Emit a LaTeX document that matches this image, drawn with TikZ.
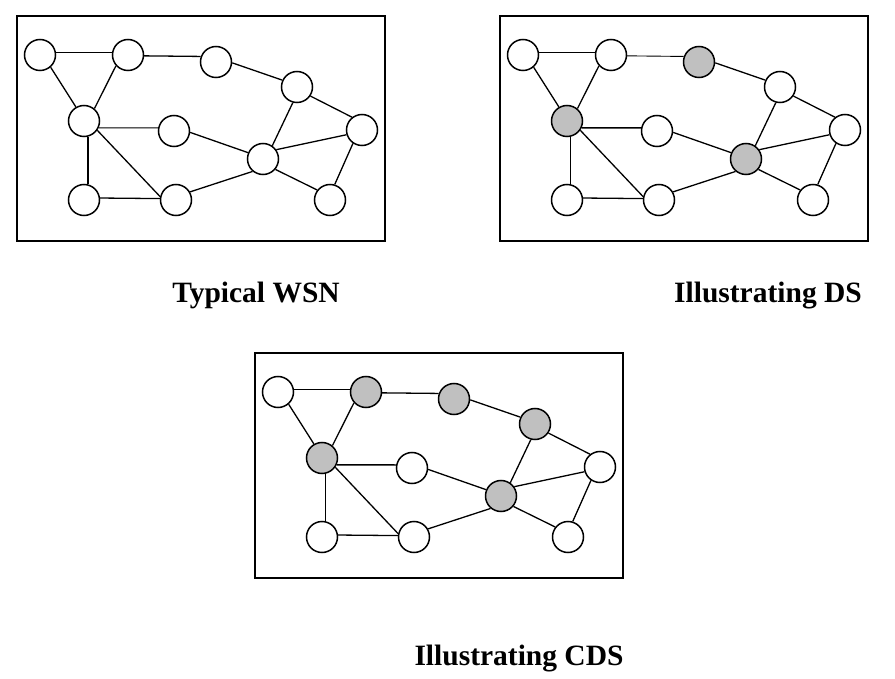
\documentclass[tikz,border=0pt]{standalone}
\usepackage{fontspec}
\setmainfont{Liberation Serif}
\usepackage{tikz}

\begin{document}
\definecolor{dsgray}{RGB}{192,192,192}
\begin{tikzpicture}[x=1pt, y=-1pt,
    sensor/.style={circle, draw, line width=1.5pt, fill=white, inner sep=0pt, minimum size=31pt},
    dom/.style={sensor, fill=dsgray},
    link/.style={line width=1.3pt},
    weak/.style={line width=0.9pt},
    frame/.style={draw, line width=2pt},
    caption/.style={anchor=base, inner sep=0pt, font=\fontsize{29.5}{35}\selectfont\bfseries}]
    \useasboundingbox (0, 0) rectangle (895, 679);

    % typical WSN
    \begin{scope}[shift={(0, 0)}]
        \draw[frame] (17, 16) rectangle (385, 241);
        \foreach \n/\x/\y in {a/40/55, b/128/55, c/216/62, d/297/87, e/362/130, f/84/121,
                              g/174/131, h/263/159, i/84/200, j/176/200, k/330/200}
            \node[sensor] (\n1) at (\x, \y) {};
        \foreach \u/\p/\v/\q/\w in {a/10/b/170/link, b/-3/c/160/link, c/-3/d/155/link,
                                    d/-34/e/128/link, a/-49/f/120/link, b/-138/f/50/link,
                                    f/-25/g/169/weak, f/-76/i/76/link, f/-35/j/168/link,
                                    i/7/j/175/link, g/-5/h/157/link, j/30/h/-130/link,
                                    d/-105/h/55/link, e/-163/h/35/link, h/-40/k/142/link,
                                    e/-124/k/73/link}
            \draw[\w] (\u1.\p) -- (\v1.\q);
    \end{scope}
    \node[caption] (cap1) at (256, 303) {Typical WSN};

    % dominating set
    \begin{scope}[shift={(483, 0)}]
        \draw[frame] (17, 16) rectangle (385, 241);
        \foreach \n/\x/\y/\s in {a/40/55/sensor, b/128/55/sensor, c/216/62/dom, d/297/87/sensor,
                                 e/362/130/sensor, f/84/121/dom, g/174/131/sensor, h/263/159/dom,
                                 i/84/200/sensor, j/176/200/sensor, k/330/200/sensor}
            \node[\s] (\n2) at (\x, \y) {};
        \foreach \u/\p/\v/\q/\w in {a/10/b/170/link, b/-3/c/160/weak, c/-3/d/155/link,
                                    d/-34/e/128/link, a/-49/f/120/link, b/-138/f/50/link,
                                    f/-25/g/169/link, f/-76/i/76/weak, f/-35/j/168/link,
                                    i/7/j/175/link, g/-5/h/157/link, j/30/h/-130/link,
                                    d/-105/h/55/link, e/-163/h/35/link, h/-40/k/142/link,
                                    e/-124/k/73/link}
            \draw[\w] (\u2.\p) -- (\v2.\q);
    \end{scope}
    \node[caption] (cap2) at (768, 303) {Illustrating DS};

    % connected dominating set
    \begin{scope}[shift={(238, 337)}]
        \draw[frame] (17, 16) rectangle (385, 241);
        \foreach \n/\x/\y/\s in {a/40/55/sensor, b/128/55/dom, c/216/62/dom, d/297/87/dom,
                                 e/362/130/sensor, f/84/121/dom, g/174/131/sensor, h/263/159/dom,
                                 i/84/200/sensor, j/176/200/sensor, k/330/200/sensor}
            \node[\s] (\n3) at (\x, \y) {};
        \foreach \u/\p/\v/\q/\w in {a/10/b/170/link, b/-3/c/160/link, c/-3/d/155/link,
                                    d/-34/e/128/link, a/-49/f/120/link, b/-138/f/50/link,
                                    f/-25/g/169/link, f/-76/i/76/weak, f/-35/j/168/link,
                                    i/7/j/175/link, g/-5/h/157/link, j/30/h/-130/link,
                                    d/-105/h/55/link, e/-163/h/35/link, h/-40/k/142/link,
                                    e/-124/k/73/link}
            \draw[\w] (\u3.\p) -- (\v3.\q);
    \end{scope}
    \node[caption] (cap3) at (519, 665) {Illustrating CDS};
\end{tikzpicture}
\end{document}
